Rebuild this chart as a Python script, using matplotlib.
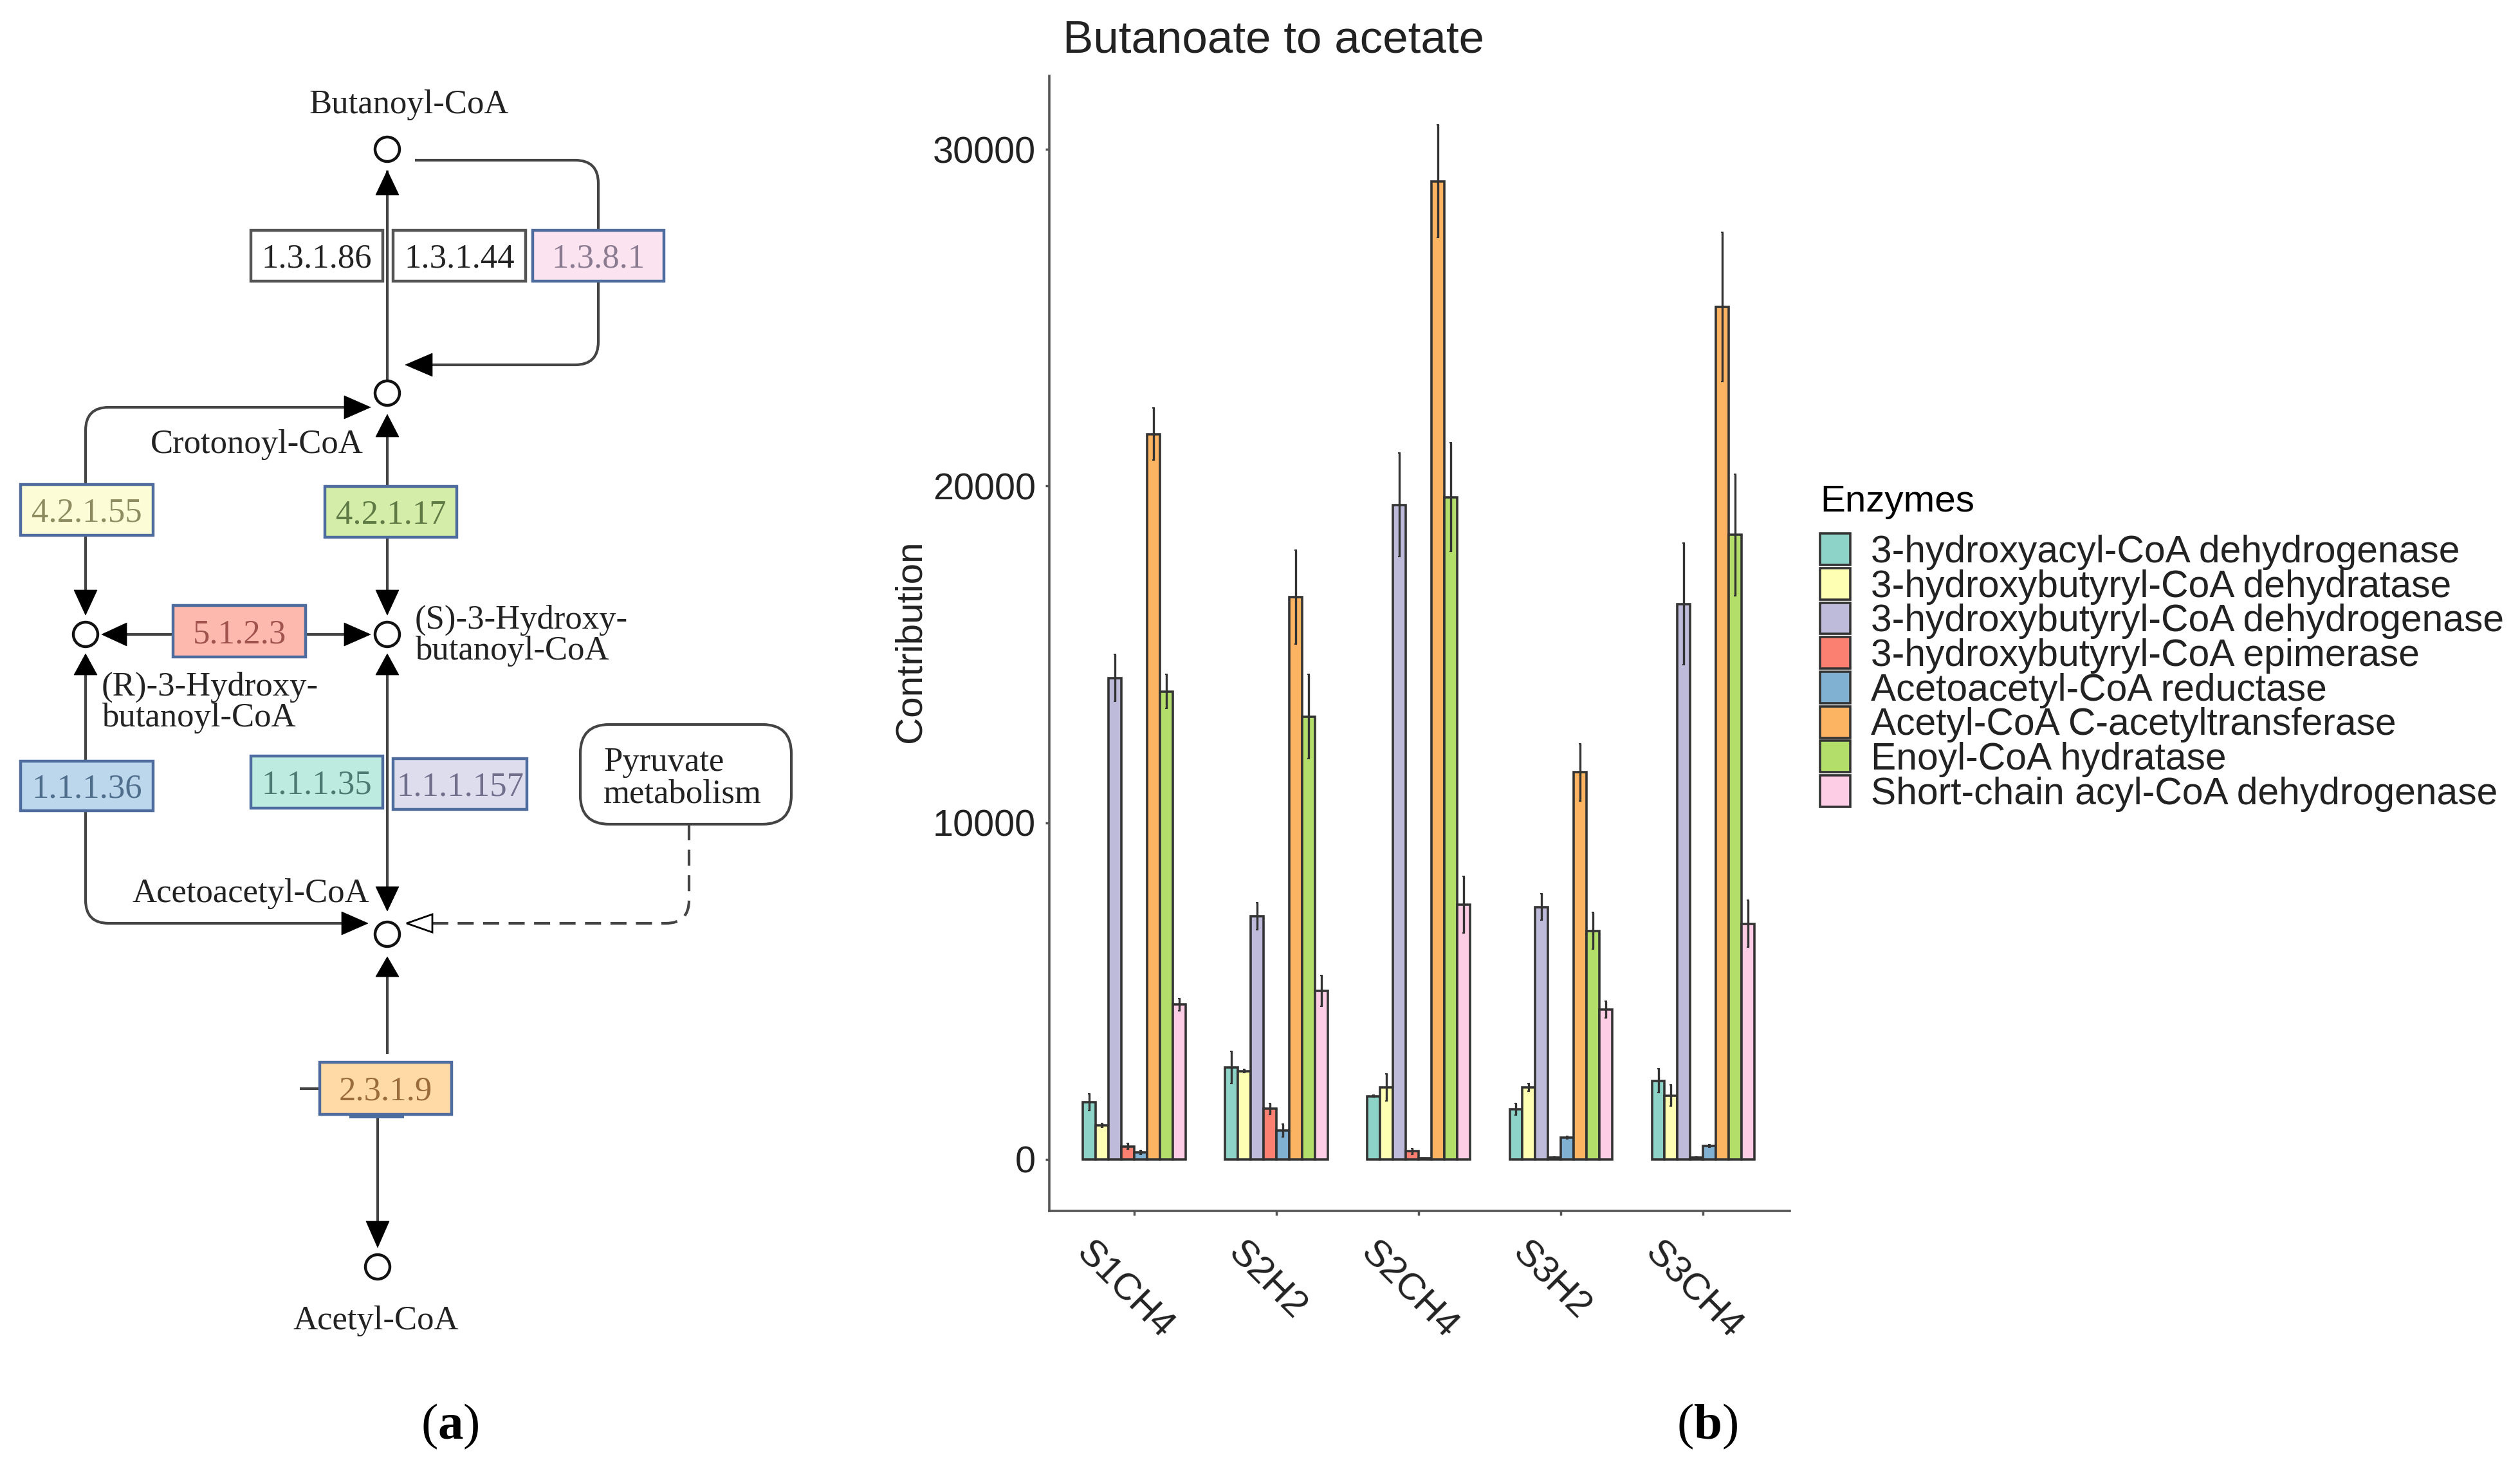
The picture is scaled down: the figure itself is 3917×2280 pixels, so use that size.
import numpy as np
import matplotlib
matplotlib.use("Agg")
import matplotlib.pyplot as plt
from matplotlib.patches import Patch, Rectangle, FancyBboxPatch, Polygon, Circle
from matplotlib.path import Path
from matplotlib.patches import PathPatch
from matplotlib.transforms import ScaledTranslation

plt.rcParams['mathtext.fontset'] = 'custom'
plt.rcParams['mathtext.rm'] = 'Liberation Serif'
plt.rcParams['mathtext.bf'] = 'Liberation Serif:bold'

samples = ['S1CH4', 'S2H2', 'S2CH4', 'S3H2', 'S3CH4']
enzymes = ['3-hydroxyacyl-CoA dehydrogenase', '3-hydroxybutyryl-CoA dehydratase',
           '3-hydroxybutyryl-CoA dehydrogenase', '3-hydroxybutyryl-CoA epimerase',
           'Acetoacetyl-CoA reductase', 'Acetyl-CoA C-acetyltransferase',
           'Enoyl-CoA hydratase', 'Short-chain acyl-CoA dehydrogenase']
colors = ['#8DD3C7', '#FFFFB3', '#BEBADA', '#FB8072', '#80B1D3', '#FDB462', '#B3DE69', '#FCCDE5']

hydroxyacyl = [1700, 2735, 1875, 1490, 2340]
hb_dehydratase = [1010, 2620, 2140, 2140, 1900]
hb_dehydrogenase = [14300, 7220, 19440, 7500, 16500]
hb_epimerase = [390, 1500, 240, 55, 55]
aa_reductase = [210, 860, 30, 650, 400]
acetyl_transferase = [21540, 16700, 29050, 11500, 25320]
enoyl_hydratase = [13900, 13150, 19670, 6790, 18550]
short_chain = [4600, 5000, 7570, 4460, 7000]

hydroxyacyl_err = [240, 480, 30, 165, 350]
hb_dehydratase_err = [60, 50, 400, 110, 310]
hb_dehydrogenase_err = [700, 400, 1540, 400, 1800]
hb_epimerase_err = [90, 165, 90, 20, 20]
aa_reductase_err = [50, 200, 10, 30, 30]
acetyl_transferase_err = [770, 1400, 1670, 850, 2220]
enoyl_hydratase_err = [500, 1250, 1610, 550, 1810]
short_chain_err = [180, 460, 840, 250, 700]

series = [hydroxyacyl, hb_dehydratase, hb_dehydrogenase, hb_epimerase,
          aa_reductase, acetyl_transferase, enoyl_hydratase, short_chain]
errors = [hydroxyacyl_err, hb_dehydratase_err, hb_dehydrogenase_err, hb_epimerase_err,
          aa_reductase_err, acetyl_transferase_err, enoyl_hydratase_err, short_chain_err]

W, H = 3917, 2280
fig = plt.figure(figsize=(W / 100, H / 100), dpi=100, facecolor='white')

# ---------- panel (b) ----------
ax = fig.add_axes([1631 / W, (H - 1882) / H, (2782 - 1631) / W, (1882 - 118) / H])
SANS = 'Liberation Sans'
SC = '#555555'
bw = 0.09
for i, (vals, errs, c) in enumerate(zip(series, errors, colors)):
    x = np.arange(1, 6) + (i - 3.5) * bw
    ax.bar(x, vals, width=bw, color=c, edgecolor='#333333', linewidth=2.6, zorder=2)
    ax.errorbar(x, vals, yerr=errs, fmt='none', ecolor='#333333', elinewidth=2.4,
                capsize=1.5, capthick=1.5, zorder=3)
ax.set_xlim(0.403, 5.61)
ax.set_ylim(-1529, 32180)
ax.set_yticks([0, 10000, 20000, 30000])
ax.set_xticks(range(1, 6))
ax.set_xticklabels(samples, rotation=-45, ha='center', rotation_mode='default',
                   fontsize=42, family=SANS, color='#222222')
ax.tick_params(axis='y', labelsize=41.5, length=4, width=2.5, color=SC, labelcolor='#222222', pad=11)
ax.tick_params(axis='x', length=5, width=2.5, color=SC, pad=22)
shift = ScaledTranslation(-15 / 100, 0, fig.dpi_scale_trans)
for t in ax.get_xticklabels():
    t.set_transform(t.get_transform() + shift)
for t in ax.get_yticklabels():
    t.set_family(SANS)
for s in ['top', 'right']:
    ax.spines[s].set_visible(False)
for s in ['left', 'bottom']:
    ax.spines[s].set_color(SC)
    ax.spines[s].set_linewidth(2.6)
fig.text(1415 / W, 1 - 997 / H, 'Contribution', rotation=90, fontsize=42, family=SANS,
         ha='center', va='center', color='#222222')
fig.text(1652 / W, 1 - 64 / H, 'Butanoate to acetate', fontsize=51, family=SANS,
         ha='left', va='center', color='#222222')

handles = [Patch(facecolor=c, edgecolor='#333333', linewidth=2.6) for c in colors]
leg = ax.legend(handles, enzymes, title='Enzymes', loc='upper left',
                bbox_to_anchor=(2829 / W, 1 - 753 / H), bbox_transform=fig.transFigure,
                frameon=False, borderpad=0, borderaxespad=0, alignment='left',
                prop={'family': SANS, 'size': 42.3}, title_fontproperties={'family': SANS, 'size': 42},
                handlelength=0.8, handleheight=0.9, labelspacing=-0.05, handletextpad=0.55)
leg._legend_box.sep = 16
for t in leg.get_texts():
    t.set_color('#222222')

# ---------- panel (a) ----------
d = fig.add_axes([0, 0, 1, 1], zorder=-1)
d.set_xlim(0, W)
d.set_ylim(H, 0)
d.axis('off')
SERIF = 'Liberation Serif'
LC = '#444444'
LW = 3.0


def seg(pts, ls='-', r=36):
    """Polyline with rounded corners."""
    verts, codes = [pts[0]], [Path.MOVETO]
    for k in range(1, len(pts) - 1):
        p0, p1, p2 = map(np.array, (pts[k - 1], pts[k], pts[k + 1]))
        a = p1 + (p0 - p1) / np.linalg.norm(p0 - p1) * r
        b = p1 + (p2 - p1) / np.linalg.norm(p2 - p1) * r
        verts += [tuple(a), tuple(p1), tuple(b)]
        codes += [Path.LINETO, Path.CURVE3, Path.CURVE3]
    verts.append(pts[-1])
    codes.append(Path.LINETO)
    d.add_patch(PathPatch(Path(verts, codes), fill=False, ec=LC, lw=LW, ls=ls, zorder=2))


def arrow(tip, base, half=18, filled=True):
    t, b = np.array(tip, float), np.array(base, float)
    n = (t - b) / np.linalg.norm(t - b)
    p = np.array([-n[1], n[0]]) * half
    d.add_patch(Polygon([t, b + p, b - p], closed=True, fc='black' if filled else 'white',
                        ec='black', lw=2 if not filled else 0.5, zorder=4))


def node(x, y):
    d.add_patch(Circle((x, y), 19, fc='white', ec='#111111', lw=3.2, zorder=4))


def box(x0, x1, y0, y1, label, fc, ec, tc):
    d.add_patch(Rectangle((x0, y0), x1 - x0, y1 - y0, fc=fc, ec=ec, lw=3.2, zorder=3))
    d.text((x0 + x1) / 2, (y0 + y1) / 2 + 5, label, family=SERIF, fontsize=38, color=tc,
           ha='center', va='center', zorder=5)


def label(x, y, s, ha='center', size=38):
    d.text(x, y, s, family=SERIF, fontsize=size, color='#222222', ha=ha, va='center',
           linespacing=1.0, zorder=5)


BE = '#4F6C9E'
# lines
seg([(602, 265), (602, 590)])
seg([(602, 679), (602, 756)])
seg([(602, 835), (602, 917)])
seg([(602, 1049), (602, 1378)])
seg([(602, 1518), (602, 1638)])
seg([(645, 249), (930, 249), (930, 567), (672, 567)])
seg([(133, 753), (133, 633), (535, 633)])
seg([(133, 832), (133, 917)])
seg([(133, 1049), (133, 1183)])
seg([(133, 1260), (133, 1435), (531, 1435)])
seg([(197, 986), (269, 986)])
seg([(475, 986), (535, 986)])
seg([(1071, 1281), (1071, 1435), (672, 1435)], ls=(0, (6, 3.5)))
seg([(587, 1732), (587, 1898)])
seg([(466, 1692), (497, 1692)])
d.plot([545, 626], [1736, 1736], color=BE, lw=3, zorder=2)

# arrowheads
arrow((602, 265), (602, 303))
arrow((602, 644), (602, 679))
arrow((602, 956), (602, 917))
arrow((602, 1016), (602, 1049))
arrow((602, 1416), (602, 1378))
arrow((602, 1487), (602, 1518))
arrow((630, 567), (672, 567))
arrow((576, 633), (535, 633))
arrow((133, 956), (133, 917))
arrow((133, 1016), (133, 1049))
arrow((572, 1435), (531, 1435))
arrow((158, 986), (197, 986))
arrow((576, 986), (535, 986))
arrow((587, 1939), (587, 1898))
arrow((632, 1435), (672, 1435), half=14, filled=False)

for n in [(602, 232), (602, 611), (602, 986), (133, 986), (602, 1452), (587, 1969)]:
    node(*n)

# enzyme boxes
box(390, 595, 358, 437, '1.3.1.86', 'white', '#555555', '#222222')
box(611, 817, 358, 437, '1.3.1.44', 'white', '#555555', '#222222')
box(828, 1032, 358, 437, '1.3.8.1', '#FBE3F0', BE, '#8A7A90')
box(32, 238, 753, 832, '4.2.1.55', '#FCFCD6', BE, '#8C8C60')
box(505, 710, 756, 835, '4.2.1.17', '#D4EDA8', BE, '#5F7A45')
box(269, 475, 941, 1021, '5.1.2.3', '#FDB9AE', BE, '#A0524C')
box(32, 238, 1183, 1260, '1.1.1.36', '#BCD6EC', BE, '#4F6E8C')
box(390, 595, 1175, 1256, '1.1.1.35', '#BDEBDF', BE, '#4A7A72')
box(611, 819, 1179, 1258, '1.1.1.157', '#DDDDEE', BE, '#6F6F8C')
box(497, 702, 1651, 1732, '2.3.1.9', '#FFD9A6', BE, '#9A6C3C')

d.add_patch(FancyBboxPatch((902 + 40, 1126 + 40), 328 - 80, 155 - 80,
                           boxstyle='round,pad=40,rounding_size=45', fc='white', ec='#444444',
                           lw=3, zorder=3))
label(938, 1185, 'Pyruvate', ha='left')
label(938, 1235, 'metabolism', ha='left')

label(636, 163, 'Butanoyl-CoA')
label(399, 691, 'Crotonoyl-CoA')
label(645, 988, '(S)-3-Hydroxy-\nbutanoyl-CoA', ha='left')
label(158, 1092, '(R)-3-Hydroxy-\nbutanoyl-CoA', ha='left')
label(390, 1389, 'Acetoacetyl-CoA')
label(584, 2053, 'Acetyl-CoA')

d.text(699, 2217, r'($\mathbf{a}$)', family=SERIF, fontsize=57, color='black', ha='center', va='center')
d.text(2654, 2217, r'($\mathbf{b}$)', family=SERIF, fontsize=57, color='black', ha='center', va='center')

fig.savefig('out.png', dpi=100, facecolor='white')
